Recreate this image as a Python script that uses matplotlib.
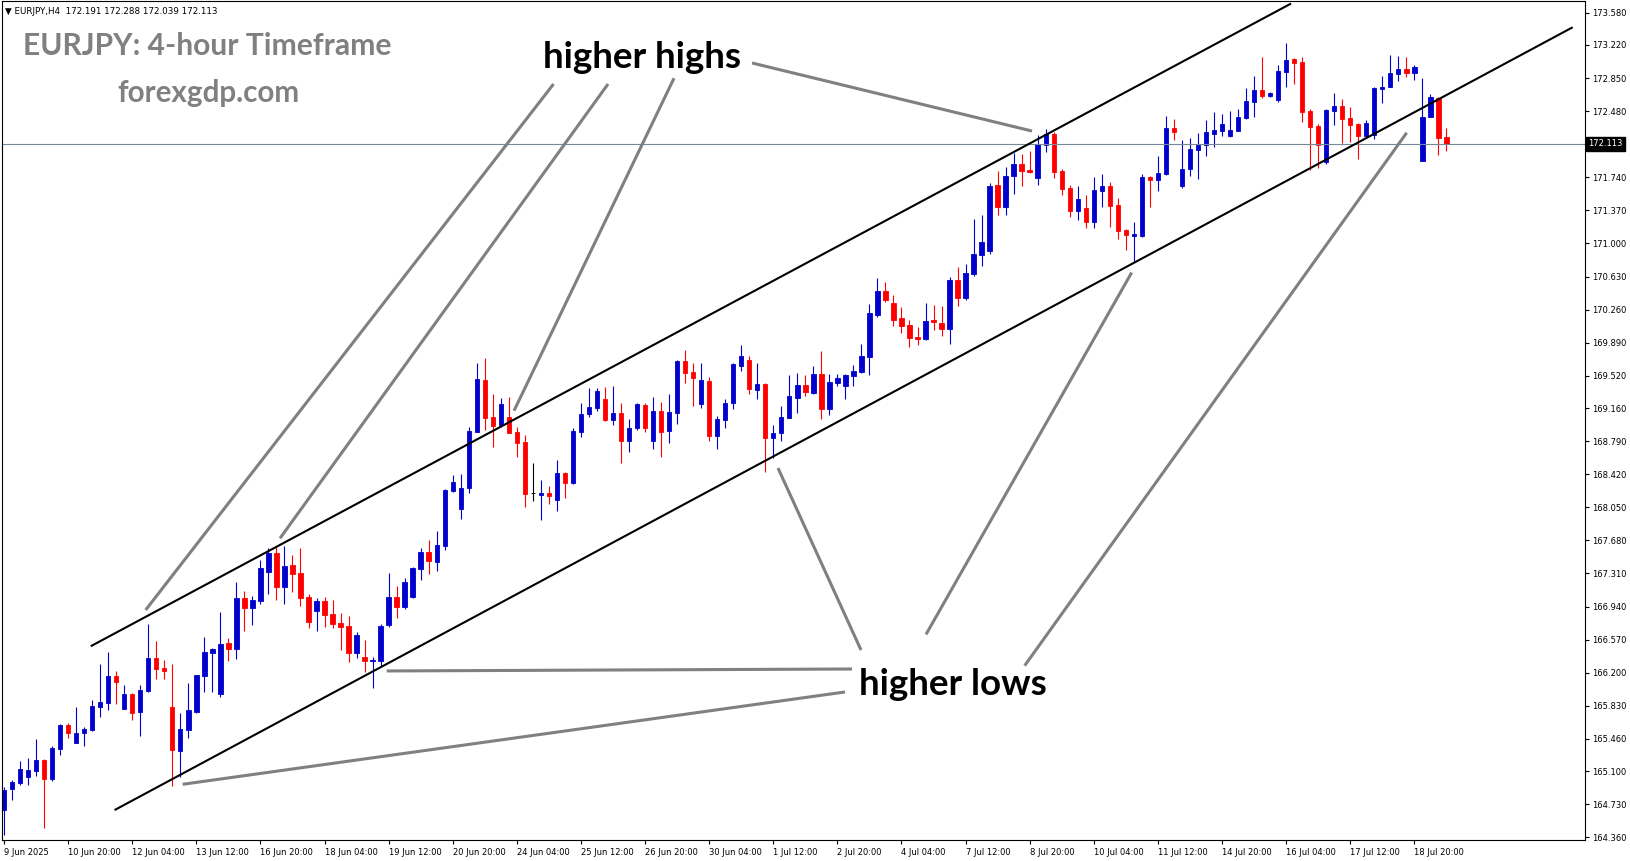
import matplotlib
matplotlib.use('Agg')
import matplotlib.pyplot as plt

# EURJPY H4 candles, 9 Jun 2025 12:00 -> 21 Jul 2025 12:00
opens = [
    164.665, 164.897, 164.971, 165.038, 165.105, 165.225, 165.009, 165.351, 165.616, 165.418,
    165.523, 165.560, 165.821, 165.866, 166.164, 165.798, 165.963, 165.765, 166.000, 166.365,
    166.253, 165.821, 165.329, 165.560, 165.758, 166.164, 166.424, 165.963, 166.529, 166.469,
    167.036, 166.927, 167.005, 167.330, 167.543, 167.162, 167.405, 167.319, 167.050, 166.894,
    167.002, 166.857, 166.753, 166.723, 166.424, 166.373, 166.335, 166.327, 166.734, 167.050,
    166.939, 167.050, 167.360, 167.554, 167.442, 167.617, 168.236, 168.031, 168.269, 168.895,
    169.473, 169.060, 168.970, 169.056, 168.892, 168.780, 168.207, 168.191, 168.210, 168.132,
    168.434, 168.325, 168.892, 169.093, 169.164, 169.261, 169.026, 169.108, 168.795, 168.933,
    169.194, 168.795, 169.130, 168.906, 169.108, 169.686, 169.566, 169.205, 169.462, 168.851,
    169.030, 169.213, 169.630, 169.697, 169.361, 169.429, 168.828, 168.877, 169.052, 169.275,
    169.414, 169.331, 169.540, 169.146, 169.443, 169.410, 169.522, 169.566, 169.734, 170.200,
    170.468, 170.338, 170.163, 170.088, 169.954, 169.935, 170.144, 170.114, 170.044, 170.591,
    170.393, 170.658, 170.871, 170.916, 171.654, 171.411, 171.758, 171.888, 171.821, 171.735,
    172.101, 172.224, 171.810, 171.620, 171.363, 171.396, 171.240, 171.587, 171.646, 171.430,
    171.150, 171.087, 171.083, 171.746, 171.709, 171.777, 172.288, 171.642, 171.829, 172.045,
    172.101, 172.224, 172.261, 172.201, 172.261, 172.403, 172.585, 172.716, 172.652, 172.604,
    172.920, 173.062, 173.029, 172.481, 172.313, 171.914, 172.484, 172.537, 172.399, 172.336,
    172.201, 172.213, 172.727, 172.753, 172.895, 172.951, 172.909, 171.925, 172.417, 172.623,
    172.191,
]
highs = [
    164.922, 165.001, 165.214, 165.244, 165.459, 165.236, 165.381, 165.625, 165.642, 165.821,
    165.597, 165.895, 166.298, 166.432, 166.220, 166.063, 165.977, 166.063, 166.745, 166.555,
    166.342, 166.298, 165.747, 166.089, 166.180, 166.603, 166.477, 166.879, 166.585, 167.215,
    167.114, 167.058, 167.461, 167.592, 167.610, 167.617, 167.517, 167.592, 167.081, 167.039,
    167.050, 167.013, 166.865, 166.835, 166.659, 166.566, 166.372, 166.749, 167.319, 167.170,
    167.256, 167.386, 167.592, 167.684, 167.785, 168.258, 168.411, 168.422, 168.948, 169.667,
    169.723, 169.317, 169.272, 169.280, 168.944, 168.858, 168.542, 168.355, 168.288, 168.579,
    168.445, 168.940, 169.220, 169.387, 169.387, 169.398, 169.406, 169.220, 169.034, 169.216,
    169.213, 169.287, 169.231, 169.317, 169.697, 169.809, 169.660, 169.660, 169.503, 169.071,
    169.257, 169.667, 169.865, 169.742, 169.667, 169.440, 168.970, 169.183, 169.529, 169.548,
    169.529, 169.630, 169.801, 169.540, 169.540, 169.540, 169.641, 169.876, 170.323, 170.610,
    170.566, 170.424, 170.286, 170.144, 170.063, 170.338, 170.312, 170.301, 170.622, 170.740,
    170.770, 171.273, 171.318, 171.679, 171.813, 171.858, 172.008, 172.000, 172.037, 172.213,
    172.280, 172.250, 171.832, 171.654, 171.646, 171.542, 171.746, 171.777, 171.690, 171.512,
    171.162, 171.240, 171.773, 171.758, 171.978, 172.425, 172.392, 172.157, 172.182, 172.238,
    172.380, 172.473, 172.447, 172.481, 172.503, 172.735, 172.872, 173.088, 172.699, 172.995,
    173.238, 173.070, 173.081, 172.503, 172.332, 172.503, 172.686, 172.615, 172.522, 172.350,
    172.380, 172.744, 172.872, 173.107, 173.096, 173.081, 172.995, 172.846, 172.671, 172.641,
    172.288,
]
lows = [
    164.386, 164.777, 164.945, 164.945, 165.046, 164.464, 164.993, 165.280, 165.474, 165.411,
    165.384, 165.552, 165.709, 165.784, 165.851, 165.790, 165.672, 165.497, 165.988, 166.127,
    166.127, 164.937, 165.038, 165.467, 165.747, 165.988, 165.988, 165.926, 166.335, 166.351,
    166.670, 166.734, 166.969, 167.081, 167.013, 166.969, 167.106, 166.947, 166.704, 166.667,
    166.715, 166.700, 166.454, 166.324, 166.362, 166.212, 166.026, 166.275, 166.715, 166.816,
    166.909, 167.032, 167.237, 167.304, 167.341, 167.573, 168.224, 167.919, 168.210, 168.890,
    168.914, 168.728, 168.951, 168.878, 168.616, 168.057, 168.124, 167.908, 168.087, 168.012,
    168.157, 168.316, 168.833, 169.063, 169.130, 169.015, 168.970, 168.549, 168.672, 168.914,
    168.895, 168.702, 168.616, 168.766, 168.978, 169.443, 169.186, 169.164, 168.795, 168.702,
    168.940, 169.146, 169.578, 169.317, 169.258, 168.448, 168.598, 168.795, 169.048, 169.108,
    169.294, 169.317, 169.034, 169.082, 169.406, 169.258, 169.410, 169.555, 169.526, 170.174,
    170.349, 170.080, 169.995, 169.846, 169.865, 169.926, 170.032, 169.965, 169.876, 170.301,
    170.368, 170.640, 170.751, 170.882, 171.318, 171.318, 171.553, 171.642, 171.791, 171.654,
    172.026, 171.735, 171.542, 171.299, 171.262, 171.176, 171.176, 171.411, 171.187, 171.050,
    170.927, 170.804, 171.076, 171.411, 171.587, 171.765, 172.157, 171.623, 171.754, 171.721,
    171.978, 172.082, 172.201, 172.187, 172.257, 172.388, 172.410, 172.630, 172.638, 172.585,
    172.753, 172.783, 172.361, 171.821, 171.840, 171.885, 172.324, 172.127, 172.138, 171.941,
    172.194, 172.165, 172.567, 172.746, 172.820, 172.864, 172.827, 171.922, 172.414, 171.989,
    172.039,
]
closes = [
    164.889, 164.982, 165.121, 165.113, 165.225, 165.016, 165.355, 165.616, 165.530, 165.523,
    165.571, 165.828, 165.870, 166.164, 166.100, 165.963, 165.753, 166.007, 166.365, 166.245,
    166.216, 165.336, 165.567, 165.784, 166.175, 166.432, 166.469, 166.521, 166.469, 167.036,
    166.927, 167.013, 167.371, 167.543, 167.162, 167.394, 167.304, 167.039, 166.771, 167.002,
    166.846, 166.745, 166.715, 166.424, 166.622, 166.335, 166.346, 166.723, 167.050, 166.939,
    167.218, 167.375, 167.554, 167.453, 167.629, 168.243, 168.333, 168.262, 168.903, 169.485,
    169.052, 168.959, 169.205, 168.884, 168.772, 168.202, 168.207, 168.210, 168.180, 168.434,
    168.325, 168.903, 169.093, 169.168, 169.350, 169.026, 169.101, 168.795, 168.940, 169.205,
    168.940, 169.130, 168.895, 169.119, 169.686, 169.555, 169.499, 169.473, 168.851, 169.041,
    169.216, 169.655, 169.742, 169.376, 169.429, 168.828, 168.877, 169.056, 169.295, 169.414,
    169.343, 169.540, 169.146, 169.448, 169.492, 169.529, 169.577, 169.742, 170.219, 170.468,
    170.368, 170.144, 170.080, 169.946, 169.935, 170.133, 170.125, 170.047, 170.591, 170.393,
    170.666, 170.882, 171.016, 171.642, 171.411, 171.754, 171.888, 171.813, 171.799, 172.112,
    172.224, 171.799, 171.609, 171.363, 171.497, 171.240, 171.598, 171.646, 171.422, 171.143,
    171.095, 171.106, 171.746, 171.709, 171.784, 172.288, 172.250, 171.829, 172.056, 172.101,
    172.243, 172.269, 172.336, 172.269, 172.410, 172.593, 172.716, 172.649, 172.686, 172.928,
    173.051, 173.021, 172.473, 172.305, 172.101, 172.492, 172.537, 172.392, 172.324, 172.201,
    172.343, 172.735, 172.753, 172.909, 172.951, 172.909, 172.970, 172.410, 172.634, 172.183,
    172.113,
]

time_labels = [
    '9 Jun 2025', '10 Jun 20:00', '12 Jun 04:00', '13 Jun 12:00', '16 Jun 20:00',
    '18 Jun 04:00', '19 Jun 12:00', '20 Jun 20:00', '24 Jun 04:00', '25 Jun 12:00',
    '26 Jun 20:00', '30 Jun 04:00', '1 Jul 12:00', '2 Jul 20:00', '4 Jul 04:00',
    '7 Jul 12:00', '8 Jul 20:00', '10 Jul 04:00', '11 Jul 12:00', '14 Jul 20:00',
    '16 Jul 04:00', '17 Jul 12:00', '18 Jul 20:00',
]
label_every = 8

price_ticks = [
    164.360, 164.730, 165.100, 165.460, 165.830, 166.200, 166.570, 166.940, 167.310,
    167.680, 168.050, 168.420, 168.790, 169.160, 169.520, 169.890, 170.260, 170.630,
    171.000, 171.370, 171.740, 172.480, 172.850, 173.220, 173.580,
]
last_price = 172.113

# channel lines and pointer lines: (bar, price) endpoints
upper_channel = [(10.94, 166.502), (160.5, 173.677)]
lower_channel = [(13.91, 164.670), (195.65, 173.412)]
highs_pointers = [
    [(93.35, 173.018), (128.29, 172.257)],
    [(68.58, 172.783), (17.68, 166.902)],
    [(75.38, 172.783), (34.44, 167.703)],
    [(83.61, 172.847), (63.65, 169.130)],
]
lows_pointers = [
    [(105.83, 166.242), (47.76, 166.220)],
    [(104.95, 165.985), (22.30, 164.953)],
    [(106.95, 166.454), (96.59, 168.489)],
    [(115.06, 166.628), (140.73, 170.675)],
    [(127.37, 166.279), (175.05, 172.238)],
]

W, H = 1631, 861
BULL = '#0000CD'
BEAR = '#FF0000'
GREY = '#808080'

fig = plt.figure(figsize=(W / 100, H / 100), dpi=100)
ax = fig.add_axes([2 / W, 1 - 840 / H, 1583 / W, 839 / H])

xs = list(range(len(opens)))
colors = []
for o, c in zip(opens, closes):
    if c > o:
        colors.append(BULL)
    elif c < o:
        colors.append(BEAR)
    else:
        colors.append('black')

ax.vlines(xs, lows, highs, colors=colors, linewidth=0.8)
ax.bar(xs, [abs(c - o) for o, c in zip(opens, closes)],
       bottom=[min(o, c) for o, c in zip(opens, closes)],
       width=0.55, color=colors, edgecolor=colors, linewidth=0.6)

# current price line
ax.axhline(last_price, color='#778899', linewidth=0.8)

for line in (upper_channel, lower_channel):
    ax.plot([p[0] for p in line], [p[1] for p in line], color='black', linewidth=1.5)

for line in highs_pointers + lows_pointers:
    ax.plot([p[0] for p in line], [p[1] for p in line], color=GREY,
            linewidth=2.2, solid_capstyle='butt')

ax.set_xlim(-0.25, 197.3)
ax.set_ylim(164.330, 173.711)

ax.set_xticks([i * label_every for i in range(len(time_labels))])
ax.set_xticklabels(time_labels, ha='left')
ax.set_yticks(price_ticks)
ax.set_yticklabels([f'{t:.3f}' for t in price_ticks])
ax.yaxis.tick_right()
ax.tick_params(axis='both', direction='out', length=3, width=0.8,
               labelsize=6, pad=2)
ax.tick_params(axis='x', pad=3)
for s in ax.spines.values():
    s.set_color('black')
    s.set_linewidth(0.8)

ax.text(1.002, last_price, f'{last_price:.3f}', transform=ax.get_yaxis_transform(),
        ha='left', va='center', color='white', fontsize=6,
        bbox=dict(facecolor='black', edgecolor='black', pad=1.5))

# header and captions
fig.text(5 / W, 1 - 11 / H, '\u25bc EURJPY,H4  172.191 172.288 172.039 172.113',
         fontsize=6.3, va='center', ha='left')
fig.text(23 / W, 1 - 55 / H, 'EURJPY: 4-hour Timeframe', family='Lato',
         weight='bold', fontsize=21.6, color=GREY, va='baseline', ha='left')
fig.text(117 / W, 1 - 101.7 / H, 'forexgdp.com', family='Lato',
         weight='bold', fontsize=21.3, color=GREY, va='baseline', ha='left')
fig.text(543 / W, 1 - 67.7 / H, 'higher highs', family='Lato',
         weight='bold', fontsize=26.5, color='black', va='baseline', ha='left')
fig.text(859 / W, 1 - 695 / H, 'higher lows', family='Lato',
         weight='bold', fontsize=26.5, color='black', va='baseline', ha='left')

fig.savefig('out.png', dpi=100)
plt.close(fig)
